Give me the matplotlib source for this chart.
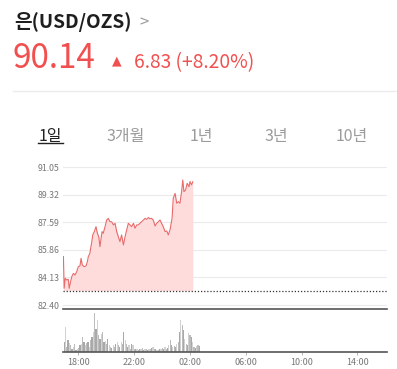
import numpy as np
import matplotlib.pyplot as plt
from matplotlib.lines import Line2D

plt.rcParams['font.family'] = ['Noto Sans CJK KR', 'DejaVu Sans']

# price trace, minutes since 17:00
price_min = [-4, -1, 4, 10, 17, 21, 27, 32, 39, 46, 53, 60, 67, 72, 77, 85, 93, 99, 103,
             110, 113, 117, 122, 129, 136, 142, 148, 153, 158, 162, 167, 175, 182, 189,
             196, 203, 211, 218, 225, 232, 239, 246, 254, 261, 268, 275, 282, 289, 297,
             304, 311, 318, 325, 332, 340, 347, 354, 361, 368, 375, 382, 390, 397, 404,
             411, 418, 425, 433, 440, 447, 454, 458, 463, 468, 476, 483, 490, 497, 504,
             509, 514, 521, 528, 536, 540, 547, 552]
price = [85.44, 83.45, 84.08, 83.97, 84.01, 83.45, 83.87, 84.18, 84.39, 84.28, 84.49,
         84.81, 84.85, 85.33, 84.91, 84.81, 84.85, 85.12, 85.44, 85.65, 85.96, 86.27,
         86.80, 87.01, 87.32, 86.90, 86.69, 86.06, 86.59, 87.01, 86.90, 87.32, 87.74,
         87.84, 87.63, 87.63, 87.43, 87.53, 87.01, 86.69, 86.38, 86.80, 86.17, 86.69,
         87.11, 87.53, 87.43, 87.32, 87.53, 87.22, 87.43, 87.43, 87.53, 87.63, 87.74,
         87.84, 87.78, 87.89, 87.82, 87.84, 87.74, 87.36, 87.53, 87.63, 87.74, 87.53,
         87.32, 87.01, 87.05, 86.80, 87.11, 87.43, 87.84, 89.10, 89.41, 88.79, 88.89,
         88.79, 89.52, 90.25, 89.52, 89.62, 90.04, 89.83, 90.15, 89.94, 90.14]
prev_close = 83.31

# volume bars (relative units), one bar every ~5.7 minutes from 16:59
vol_start = -1
vol_step = 5.7
volume = [30, 75, 15, 35, 28, 20, 8, 15, 25, 5, 8, 12, 20, 25, 45, 30, 22, 28, 30, 15,
          35, 45, 60, 117, 70, 95, 50, 40, 55, 60, 30, 32, 25, 40, 20, 15, 12, 20, 15, 25,
          30, 20, 15, 30, 25, 60, 35, 25, 15, 20, 10, 25, 22, 10, 8, 10, 5, 10, 8, 12,
          6, 8, 10, 6, 10, 8, 12, 15, 10, 8, 5, 6, 10, 8, 12, 10, 15, 8, 12, 20,
          35, 20, 15, 18, 15, 25, 30, 60, 95, 80, 65, 40, 25, 20, 58, 52, 45, 30, 15, 12,
          18, 20, 18]
vol_colors = ['#a9a9a9', '#d2d2d2', '#bcbcbc']

yticks = [82.40, 84.13, 85.86, 87.59, 89.32, 91.05]
xtick_min = [60, 300, 540, 780, 1020, 1260]
xtick_labels = ['18:00', '22:00', '02:00', '06:00', '10:00', '14:00']
tabs = ['1일', '3개월', '1년', '3년', '10년']
tab_x = [50, 126, 201, 276, 352]

W, H = 397, 369
fig = plt.figure(figsize=(W / 100, H / 100), dpi=100)
red = '#f0504f'


def fx(px):
    return px / W


def fy(py):
    return 1 - py / H


# header
fig.text(fx(14), fy(22), '은(USD/OZS)', fontsize=13.8, fontweight='bold', color='#1e1e1e',
         va='center', ha='left')
fig.text(fx(139), fy(23), '>', fontsize=12, color='#9a9a9a', va='center', ha='left')
fig.text(fx(13), fy(58), '90.14', fontsize=24, fontweight='light', color=red,
         va='center', ha='left')
fig.text(fx(112), fy(61), '▲', fontsize=9, color=red, va='center', ha='left',
         family=['DejaVu Sans'])
fig.text(fx(134), fy(63), '6.83 (+8.20%)', fontsize=13.8, color=red, va='center', ha='left')
fig.add_artist(Line2D([fx(13), 1], [fy(91), fy(91)], color='#ececec', lw=1))

for lab, x in zip(tabs, tab_x):
    fig.text(fx(x), fy(137), lab, fontsize=11.5, ha='center', va='center',
             color='#222222' if lab == '1일' else '#9b9b9b')
fig.add_artist(Line2D([fx(38), fx(63)], [fy(143.5), fy(143.5)], color='#222222', lw=1))

# price panel
ax = fig.add_axes([fx(63), fy(309), fx(324), 147 / H])
ax.plot(price_min, price, color='#e96a6a', lw=0.8, zorder=3)
ax.fill_between(price_min, price, prev_close, color='#ffdcdc', lw=0, zorder=2)
ax.axhline(prev_close, color='#333333', lw=0.9, ls=(0, (1, 1.5)), zorder=4)
ax.set_xlim(-5.8, 1386.8)
ax.set_ylim(82.15, 91.38)
ax.set_yticks(yticks)
ax.set_yticklabels([f'{v:.2f}' for v in yticks])
ax.tick_params(axis='y', length=0, pad=2.5, labelsize=6.3, labelcolor='#777777')
ax.set_xticks([])
ax.grid(axis='y', color='#ebebeb', lw=0.8)
ax.set_axisbelow(True)
for s in ax.spines.values():
    s.set_visible(False)

# volume panel
axv = fig.add_axes([fx(63), fy(352), fx(324), 43 / H])
vol_t = vol_start + vol_step * np.arange(len(volume))
cols = [vol_colors[i % 3] for i in range(len(volume))]
axv.bar(vol_t, volume, width=5.2, color=cols, lw=0)
axv.set_xlim(-5.8, 1386.8)
axv.set_ylim(0, 129)
axv.set_yticks([])
axv.set_xticks(xtick_min)
axv.set_xticklabels(xtick_labels)
axv.tick_params(axis='x', length=2, width=0.6, color='#aaaaaa', pad=2.5,
                labelsize=6.5, labelcolor='#777777')
for k in ['left', 'right']:
    axv.spines[k].set_visible(False)
for k in ['top', 'bottom']:
    axv.spines[k].set_color('#555555')
    axv.spines[k].set_linewidth(1.2)

fig.savefig('out.png', dpi=100)
